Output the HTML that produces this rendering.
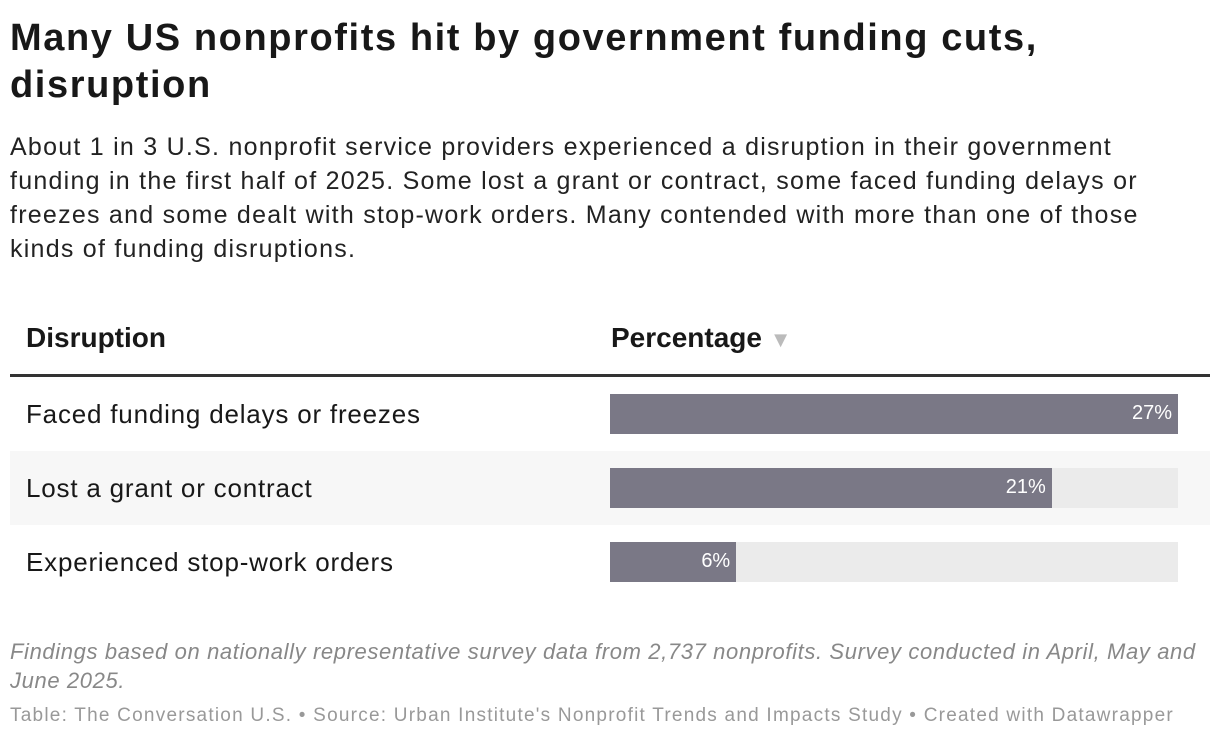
<!DOCTYPE html>
<html><head><meta charset="utf-8">
<style>
body{margin:0;width:1220px;height:740px;background:#fff;font-family:"Liberation Sans",sans-serif;color:#181818;position:relative;overflow:hidden}
.abs{position:absolute}
h1{position:absolute;left:10px;top:15px;margin:0;font-size:38px;line-height:47px;font-weight:bold;width:1210px;letter-spacing:1.6px;white-space:nowrap}
.sub{left:10px;top:130px;font-size:25px;line-height:34px;width:1210px;color:#222;white-space:nowrap;letter-spacing:1.25px}
.hdr{font-size:28px;font-weight:bold;top:322px}
.row{left:10px;width:1200px;height:74px}
.lbl{left:16px;font-size:26px;top:22px;letter-spacing:0.8px}
.bg{left:600px;top:17px;width:568px;height:40px;background:#ebebeb}
.bar{left:0;top:0;height:40px;background:#7a7886}
.val{position:absolute;right:6px;top:8px;color:#fff;font-size:20px}
.note{left:10px;top:637px;font-size:22px;line-height:29px;font-style:italic;color:#888;width:1210px;white-space:nowrap;letter-spacing:0.62px}
.src{left:10px;top:705px;font-size:19px;color:#999;letter-spacing:1.23px;white-space:nowrap}
</style></head><body>
<h1>Many US nonprofits hit by government funding cuts,<br>disruption</h1>
<div class="abs sub">About 1 in 3 U.S. nonprofit service providers experienced a disruption in their government<br>funding in the first half of 2025. Some lost a grant or contract, some faced funding delays or<br>freezes and some dealt with stop-work orders. Many contended with more than one of those<br>kinds of funding disruptions.</div>
<div class="abs hdr" style="left:26px">Disruption</div>
<div class="abs hdr" style="left:611px">Percentage <span style="color:#bbb;font-size:22px">▼</span></div>
<div class="abs" style="left:10px;top:374px;width:1200px;height:3px;background:#333"></div>
<div id="rows"></div>
<div class="abs note">Findings based on nationally representative survey data from 2,737 nonprofits. Survey conducted in April, May and<br>June 2025.</div>
<div class="abs src">Table: The Conversation U.S. • Source: Urban Institute's Nonprofit Trends and Impacts Study • Created with Datawrapper</div>
<script>
const categories=["Faced funding delays or freezes","Lost a grant or contract","Experienced stop-work orders"];
const values=[27,21,6];
const maxVal=27;
const c=document.getElementById('rows');
categories.forEach((cat,i)=>{
  const r=document.createElement('div');
  r.className='abs row';
  r.style.top=(377+i*74)+'px';
  r.style.background=i%2?'#f7f7f7':'#fff';
  r.style.borderBottom=i<2?'1px solid #e6e6e6':'none';
  
  
  const l=document.createElement('div');l.className='abs lbl';l.textContent=cat;
  
  
  const bg=document.createElement('div');bg.className='abs bg';
  
  
  const b=document.createElement('div');b.className='abs bar';b.style.width=(values[i]/maxVal*568)+'px';
  
  
  const v=document.createElement('span');v.className='val';v.textContent=values[i]+'%';
  
  
  b.appendChild(v);bg.appendChild(b);r.appendChild(l);r.appendChild(bg);c.appendChild(r);
});
</script>
</body></html>
